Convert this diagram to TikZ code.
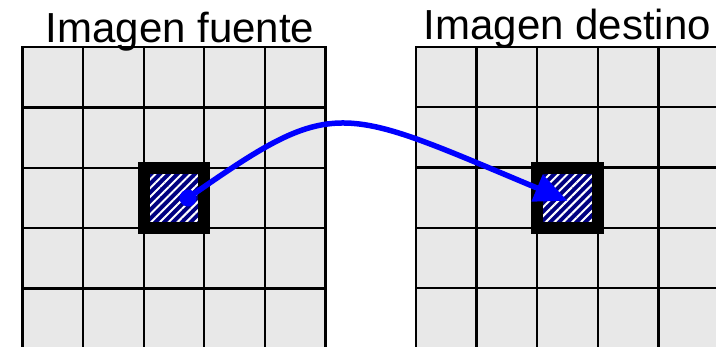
\documentclass[tikz,border=0pt]{standalone}
\usepackage{fontspec}
\setmainfont{Liberation Sans}
\usetikzlibrary{arrows.meta, patterns.meta}

\definecolor{cellgray}{RGB}{232,232,232}
\definecolor{stripenavy}{RGB}{0,0,128}
\definecolor{arrowblue}{RGB}{0,0,255}

\begin{document}
\begin{tikzpicture}[
    x=1pt, y=-1pt,
    % --- Styles ---
    cell/.style={draw=black, fill=cellgray, line width=2.3pt, minimum width=60.6pt, minimum height=60.3pt, inner sep=0pt},
    patchbox/.style={draw=black, line width=12pt, minimum width=60.6pt, minimum height=60.3pt, inner sep=0pt,
        preaction={fill=stripenavy}, pattern={Lines[angle=45, distance=6.2pt, line width=2pt]}, pattern color=white},
    dot/.style={circle, fill=arrowblue, minimum size=17pt, inner sep=0pt},
    link/.style={draw=arrowblue, line width=5.5pt, -{Triangle[length=33pt, width=28pt]}},
    title/.style={font=\fontsize{42}{50}\selectfont, anchor=base, inner sep=0pt},
]
    \useasboundingbox (0,0) rectangle (716,347);

    % ==========================
    % 1. SOURCE IMAGE (Left)
    % ==========================
    \foreach \c in {0,...,4} {
        \foreach \r in {0,...,4} {
            \node[cell] (src-\c-\r) at (52.8+60.6*\c, 77.45+60.3*\r) {};
        }
    }
    \node[patchbox] (srcbox) at (src-2-2.center) {};
    \node[title] (srctitle) at (180,42.7) {Imagen fuente};

    % ==========================
    % 2. TARGET IMAGE (Right)
    % ==========================
    \foreach \c in {0,...,4} {
        \foreach \r in {0,...,4} {
            \node[cell] (dst-\c-\r) at (446.3+60.6*\c, 77.15+60.3*\r) {};
        }
    }
    \node[patchbox] (dstbox) at (dst-2-2.center) {};
    \node[title] (dsttitle) at (567.5,39.3) {Imagen destino};

    % ==========================
    % 3. MAPPING ARROW
    % ==========================
    \node[dot] (srcdot) at ([xshift=14pt]srcbox.center) {};
    \draw[link] (srcdot.center) .. controls +(-35:180) and +(202.7:250) .. ([yshift=-3pt]dstbox.center);

\end{tikzpicture}
\end{document}
